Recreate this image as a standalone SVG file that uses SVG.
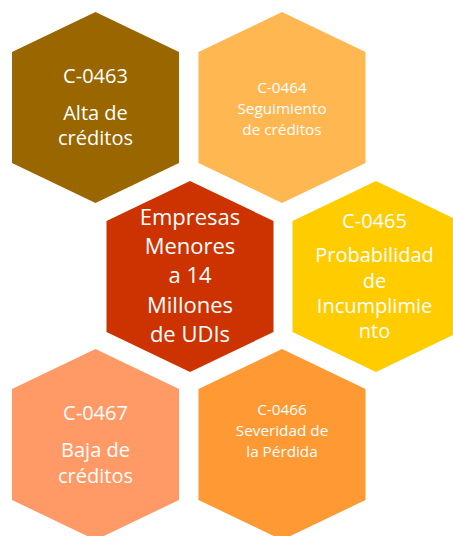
<svg xmlns="http://www.w3.org/2000/svg" xmlns:xlink="http://www.w3.org/1999/xlink" width="453" height="536" viewBox="0 0 453 536">
  <defs>
    <polygon id="hex" points="0,0 83.5,40 83.5,151 0,191 -83.5,151 -83.5,40"/>
  </defs>
  <style>
    text { font-family: "Open Sans", "Liberation Sans", sans-serif; fill: #ffffff; text-anchor: middle; }
    .l { font-size: 20px; }
    .s { font-size: 15.3px; }
    .c { font-size: 22px; }
  </style>
  <rect width="453" height="536" fill="#ffffff"/>
  <g id="connectors"></g>
  <g id="n0463">
    <use xlink:href="#hex" x="95.5" y="12" fill="#996600"/>
    <text class="l" x="95.5" y="83">C-0463</text>
    <text class="l" x="95.5" y="120">Alta de</text>
    <text class="l" x="95.5" y="145">créditos</text>
  </g>
  <g id="n0464">
    <use xlink:href="#hex" x="282" y="12" fill="#FFB752"/>
    <text class="s" x="282" y="92.5">C-0464</text>
    <text class="s" x="282" y="113.5">Seguimiento</text>
    <text class="s" x="282" y="134.5">de créditos</text>
  </g>
  <g id="center">
    <use xlink:href="#hex" x="190" y="181" fill="#CC3300"/>
    <text class="c" x="190" y="225">Empresas</text>
    <text class="c" x="190" y="254">Menores</text>
    <text class="c" x="190" y="283">a 14</text>
    <text class="c" x="190" y="312.5">Millones</text>
    <text class="c" x="190" y="341.5">de UDIs</text>
  </g>
  <g id="n0465">
    <use xlink:href="#hex" x="376" y="181" fill="#FFCC00"/>
    <text class="l" x="374.5" y="228">C-0465</text>
    <text class="l" x="374.5" y="262">Probabilidad</text>
    <text class="l" x="374.5" y="287.5">de</text>
    <text class="l" x="374.5" y="313">Incumplimie</text>
    <text class="l" x="374.5" y="338">nto</text>
  </g>
  <g id="n0467">
    <use xlink:href="#hex" x="95.5" y="349" fill="#FF9966"/>
    <text class="l" x="95.5" y="420">C-0467</text>
    <text class="l" x="95.5" y="457">Baja de</text>
    <text class="l" x="95.5" y="482.5">créditos</text>
  </g>
  <g id="n0466">
    <use xlink:href="#hex" x="282" y="349" fill="#FF9933"/>
    <text class="s" x="282" y="415">C-0466</text>
    <text class="s" x="282" y="436">Severidad de</text>
    <text class="s" x="282" y="457">la Pérdida</text>
  </g>
</svg>
